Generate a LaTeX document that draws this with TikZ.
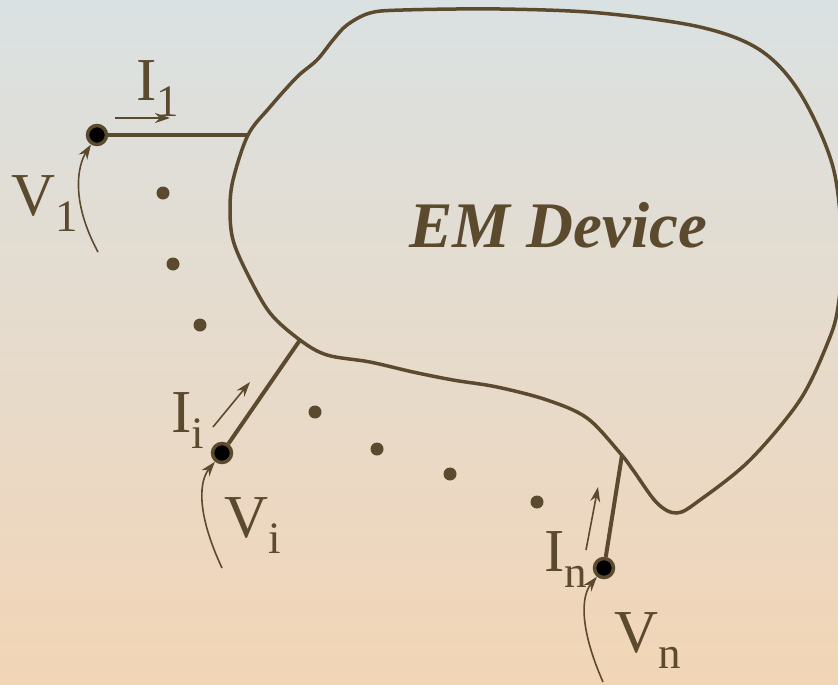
\documentclass[tikz,border=0pt]{standalone}
\usepackage{fontspec}
\setmainfont{Liberation Serif}
\usetikzlibrary{arrows.meta}
\definecolor{ink}{RGB}{92,74,46}
\definecolor{topbg}{RGB}{218,225,226}
\definecolor{botbg}{RGB}{242,213,182}
\tikzset{
  term/.style={circle,fill=black,draw=ink,line width=3.5pt,minimum size=19pt,inner sep=0pt},
  pdot/.style={circle,fill=ink,minimum size=13pt,inner sep=0pt},
  wire/.style={draw=ink,line width=4pt},
  thinarrow/.style={draw=ink,line width=1.6pt,-{Stealth[length=15pt,width=10pt]}},
  lab/.style={anchor=base west,inner sep=0pt,text=ink,font=\fontsize{61}{61}\selectfont},
}
\newcommand{\sub}[1]{\raisebox{-16pt}{\fontsize{45}{45}\selectfont #1}}
\begin{document}
\begin{tikzpicture}[x=1pt,y=-1pt]
\useasboundingbox (0,0) rectangle (838,685);
\shade[top color=topbg,bottom color=botbg] (0,0) rectangle (838,685);
\begin{scope}
\clip (0,0) rectangle (838,685);
\draw[ink,line width=3.5pt] plot[smooth cycle,tension=0.55] coordinates {
(248,135) (270,107) (297,77) (317,60) (333,40) (347,25) (370,13) (403,10) (500,9)
(600,13) (700,27) (760,50) (800,93) (833,167) (842,250) (838,307) (828,342)
(800,400) (750,460) (700,500) (677,513) (657,503) (633,470) (620,453) (587,418)
(547,400) (497,387) (453,380) (413,372) (370,362) (327,355) (300,340) (270,313)
(247,273) (233,240) (230,210) (233,180)};
\end{scope}
\coordinate (c1) at (248,135);
\coordinate (ci) at (300,340);
\coordinate (cn) at (622,455);
\node[term] (t1) at (97,135) {};
\node[term] (ti) at (222,453) {};
\node[term] (tn) at (604,568) {};
\draw[wire] (t1) -- (c1);
\draw[wire] (ti) -- (ci);
\draw[wire] (tn) -- (cn);
\foreach \n/\p in {d1/{(163,193)},d2/{(173,264)},d3/{(200,325)},d4/{(315,412)},d5/{(377,449)},d6/{(450,474)},d7/{(537,502)}}
  \node[pdot] (\n) at \p {};
% current arrows
\coordinate (a1s) at (115,118); \coordinate (a1e) at (170,118);
\coordinate (ais) at (213,427); \coordinate (aie) at (250,382);
\coordinate (ans) at (586,550); \coordinate (ane) at (598,487);
\draw[thinarrow] (a1s) -- (a1e);
\draw[thinarrow] (ais) -- (aie);
\draw[thinarrow] (ans) -- (ane);
% voltage arrows
\coordinate (v1s) at (98,252);
\coordinate (vis) at (222,568);
\coordinate (vns) at (603,682);
\draw[thinarrow] (v1s) .. controls (70,200) and (78,165) .. (t1);
\draw[thinarrow] (vis) .. controls (195,510) and (200,480) .. (ti);
\draw[thinarrow] (vns) .. controls (578,625) and (582,595) .. (tn);
% labels
\node[lab] (li1) at (136,100) {I\sub{1}};
\node[lab] (lv1) at (11,215) {V\sub{1}};
\node[lab] (lii) at (171,432) {I\sub{i}};
\node[lab] (lvi) at (224,537) {V\sub{i}};
\node[lab] (lin) at (544,571) {I\sub{n}};
\node[lab] (lvn) at (614,652) {V\sub{n}};
\node[anchor=base west,inner sep=0pt,text=ink,font=\fontsize{65}{65}\selectfont\bfseries\itshape] (em) at (409,247) {EM Device};
\end{tikzpicture}
\end{document}
